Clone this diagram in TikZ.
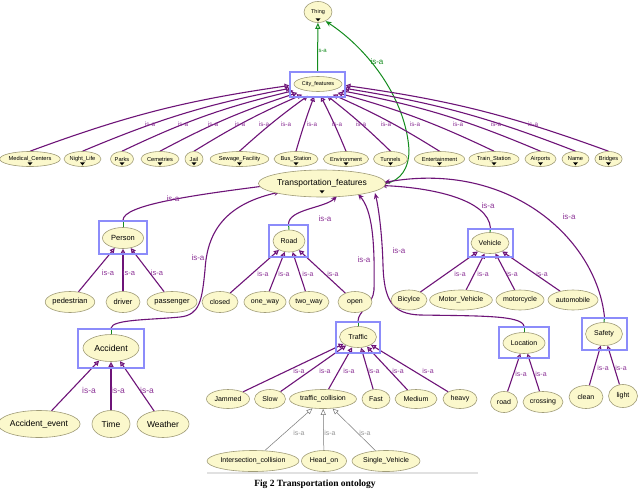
\documentclass[tikz,border=0pt]{standalone}
\usepackage{fontspec}
\setmainfont{Liberation Sans}
\newfontfamily\capfont{Liberation Serif}
\usetikzlibrary{shapes.geometric,arrows.meta,backgrounds}
\definecolor{clsfill}{RGB}{251,248,204}
\definecolor{clsdraw}{RGB}{160,156,120}
\definecolor{boxblue}{RGB}{140,140,250}
\definecolor{epurple}{RGB}{110,20,120}
\definecolor{lpurple}{RGB}{140,50,150}
\definecolor{egreen}{RGB}{20,140,30}
\definecolor{egray}{RGB}{120,120,120}
\definecolor{lgray}{RGB}{150,150,150}
\newcommand\fsz[1]{\fontsize{#1}{#1}\selectfont}
\newcommand\dropmark[2]{\fill ([shift={(-2.5,-#2)}]#1.south) -- ++(5,0) -- ++(-2.5,3) -- cycle;}
\begin{document}
\begin{tikzpicture}[x=1pt,y=-1pt,
  cls/.style={ellipse,draw=clsdraw,fill=clsfill,line width=0.6pt,inner sep=0pt},
  rowcls/.style={cls,minimum height=15pt,font=\fsz{5.7}},
  midcls/.style={cls,font=\fsz{7}},
  selbox/.style={rectangle,draw=boxblue,line width=1.6pt,inner sep=0pt},
  isa/.style={draw=epurple,line width=1.1pt,-{Triangle[open,length=5pt,width=5pt]}},
  isaf/.style={draw=epurple,line width=1.1pt,-{Stealth[length=6pt,width=5pt]}},
  isag/.style={draw=egray,line width=0.5pt,-{Triangle[open,length=6pt,width=5pt]}},
  gedge/.style={draw=egreen,line width=1pt},
  tick/.style={draw=egreen,line width=1pt},
  lab/.style={text=lpurple,inner sep=0pt},
  glab/.style={text=lgray,inner sep=0pt,font=\fsz{7}},
]
\useasboundingbox (0,0) rectangle (640,488);

% ---------- top ----------
\node[cls,minimum width=28pt,minimum height=21pt,font=\fsz{5.5}] (thing) at (318,12) {\raisebox{1pt}{Thing}};
\node[cls,minimum width=48pt,minimum height=15pt,font=\fsz{5.5}] (cf) at (318,84) {City\_features};
\node[selbox,minimum width=55pt,minimum height=25pt] (cfbox) at (317.5,84.5) {};

% ---------- row of city features ----------
\node[rowcls,minimum width=56pt] (mc) at (30,159) {Medical\_Centers};
\node[rowcls,minimum width=37pt] (nl) at (82.5,159) {Night\_Life};
\node[rowcls,minimum width=23pt] (parks) at (122,159) {Parks};
\node[rowcls,minimum width=38pt] (cem) at (160,159) {Cemetries};
\node[rowcls,minimum width=18pt] (jail) at (194,159) {Jail};
\node[rowcls,minimum width=57pt] (sew) at (239.5,159) {Sewage\_Facility};
\node[rowcls,minimum width=44pt] (bus) at (296,159) {Bus\_Station};
\node[rowcls,minimum width=44pt] (env) at (346,159) {Environment};
\node[rowcls,minimum width=34pt] (tun) at (390.5,159) {Tunnels};
\node[rowcls,minimum width=49pt] (ent) at (439.5,159) {Entertainment};
\node[rowcls,minimum width=50pt] (train) at (494,159) {Train\_Station};
\node[rowcls,minimum width=31pt] (air) at (540.5,159) {Airports};
\node[rowcls,minimum width=27pt] (name) at (575.5,159) {Name};
\node[rowcls,minimum width=27pt] (bri) at (608.5,159) {Bridges};

% ---------- transportation ----------
\node[cls,minimum width=112pt,minimum height=27pt,font=\fsz{8.5}] (tf) at (322,183.5) {\raisebox{1.5pt}{Transportation\_features}};

% Person
\node[cls,minimum width=41pt,minimum height=21pt,font=\fsz{7.5}] (person) at (123,238) {Person};
\node[selbox,minimum width=48pt,minimum height=33pt] (personbox) at (123,237.5) {};
\node[cls,minimum width=43pt,minimum height=21pt,font=\fsz{7.5}] (ped) at (70,302) {pedestrian};
\node[cls,minimum width=34pt,minimum height=21pt,font=\fsz{7.5}] (driver) at (123,302) {driver};
\node[cls,minimum width=50pt,minimum height=21pt,font=\fsz{7.5}] (pass) at (172,302) {passenger};

% Road
\node[cls,minimum width=32pt,minimum height=22pt,font=\fsz{7}] (road) at (289,241) {Road};
\node[selbox,minimum width=39pt,minimum height=32pt] (roadbox) at (288.5,241) {};
\node[midcls,minimum width=36pt,minimum height=21pt] (closed) at (220,302) {closed};
\node[midcls,minimum width=42pt,minimum height=21pt] (oneway) at (265,302) {one\_way};
\node[midcls,minimum width=40pt,minimum height=21pt] (twoway) at (309,302) {two\_way};
\node[midcls,minimum width=34pt,minimum height=21pt] (open) at (355,302) {open};

% Vehicle
\node[midcls,minimum width=38pt,minimum height=21pt] (veh) at (490,243) {Vehicle};
\node[selbox,minimum width=45pt,minimum height=28pt] (vehbox) at (490.5,243) {};
\node[midcls,minimum width=36pt,minimum height=20pt] (bic) at (409,300) {Bicylce};
\node[midcls,minimum width=59pt,minimum height=20pt] (motv) at (461,300) {Motor\_Vehicle};
\node[midcls,minimum width=48pt,minimum height=20pt] (moto) at (520,300) {motorcycle};
\node[midcls,minimum width=50pt,minimum height=20pt] (auto) at (573,300) {automobile};

% Safety
\node[midcls,minimum width=37pt,minimum height=23pt] (saf) at (604,334) {Safety};
\node[selbox,minimum width=45pt,minimum height=32pt] (safbox) at (604.5,334) {};
\node[midcls,minimum width=34pt,minimum height=23pt] (clean) at (586,397) {clean};
\node[midcls,minimum width=29pt,minimum height=23pt] (light) at (623,396) {light};

% Location
\node[midcls,minimum width=42pt,minimum height=21pt] (loc) at (524,343) {Location};
\node[selbox,minimum width=50pt,minimum height=31pt] (locbox) at (524,342.5) {};
\node[midcls,minimum width=27pt,minimum height=21pt] (lroad) at (504,402) {road};
\node[midcls,minimum width=40pt,minimum height=21pt] (cross) at (543,402) {crossing};

% Traffic
\node[midcls,minimum width=37pt,minimum height=21pt] (traf) at (358,337) {Traffic};
\node[selbox,minimum width=44pt,minimum height=31pt] (trbox) at (358,337.5) {};
\node[midcls,minimum width=43pt,minimum height=19pt] (jam) at (228,399) {Jammed};
\node[midcls,minimum width=31pt,minimum height=19pt] (slow) at (270,399) {Slow};
\node[midcls,minimum width=67pt,minimum height=19pt] (tcol) at (323,399) {traffic\_collision};
\node[midcls,minimum width=28pt,minimum height=19pt] (fast) at (376,399) {Fast};
\node[midcls,minimum width=42pt,minimum height=19pt] (med) at (416,399) {Medium};
\node[midcls,minimum width=34pt,minimum height=19pt] (heavy) at (460,399) {heavy};
\node[midcls,minimum width=86pt,minimum height=21pt] (inter) at (253,461) {Intersection\_collision};
\node[midcls,minimum width=45pt,minimum height=21pt] (head) at (324,461) {Head\_on};
\node[midcls,minimum width=68pt,minimum height=21pt] (single) at (386,461) {Single\_Vehicle};

% Accident
\node[cls,minimum width=56pt,minimum height=27pt,font=\fsz{8.7}] (acc) at (111,348) {Accident};
\node[selbox,minimum width=66pt,minimum height=39pt] (accbox) at (111,348.5) {};
\node[cls,minimum width=75pt,minimum height=27pt,font=\fsz{8.5}] (accev) at (39,424) {Accident\_event};
\node[cls,minimum width=38pt,minimum height=27pt,font=\fsz{8.5}] (time) at (111,424) {Time};
\node[cls,minimum width=52pt,minimum height=27pt,font=\fsz{8.5}] (weather) at (163,424) {Weather};

% dropdown marks
\dropmark{thing}{4.5}
\foreach \n in {mc,nl,parks,cem,jail,sew,bus,env,tun,ent,train,air,name,bri}{\dropmark{\n}{4.5}}
\dropmark{tf}{7}

% ---------- edges (behind the nodes) ----------
\begin{scope}[on background layer]
\fill[white] (0,0) rectangle (640,488);
\draw[gedge,-{Triangle[open,length=6pt,width=5pt]}] (cfbox.north) -- (thing);
\draw[gedge,-{Stealth[length=6pt,width=5pt]}] (tf.east) .. controls +(15,-3) and +(0,18) .. (409,150) .. controls +(-3,-50) and +(44,29) .. (thing.-50);

\draw[isa] (mc.north) to[bend left=6] ([shift={(-28,1)}]cfbox.center);
\draw[isa] (nl.north) to[bend left=6] ([shift={(-26.6,3.7)}]cfbox.center);
\draw[isa] (parks.north) to[bend left=6] ([shift={(-24,6.2)}]cfbox.center);
\draw[isa] (cem.north) to[bend left=5] ([shift={(-20.1,8.3)}]cfbox.center);
\draw[isa] (jail.north) to[bend left=4] ([shift={(-15.3,10.1)}]cfbox.center);
\draw[isa] (sew.north) to[bend left=3] ([shift={(-9.6,11.3)}]cfbox.center);
\draw[isa] (bus.north) to[bend left=2] ([shift={(-3.4,11.9)}]cfbox.center);
\draw[isa] (env.north) to[bend right=2] ([shift={(3.4,11.9)}]cfbox.center);
\draw[isa] (tun.north) to[bend right=3] ([shift={(9.6,11.3)}]cfbox.center);
\draw[isa] (ent.north) to[bend right=4] ([shift={(15.3,10.1)}]cfbox.center);
\draw[isa] (train.north) to[bend right=5] ([shift={(20.1,8.3)}]cfbox.center);
\draw[isa] (air.north) to[bend right=6] ([shift={(24,6.2)}]cfbox.center);
\draw[isa] (name.north) to[bend right=6] ([shift={(26.6,3.7)}]cfbox.center);
\draw[isa] (bri.north) to[bend right=6] ([shift={(28,1)}]cfbox.center);

% to Transportation_features
\draw[isaf] (personbox.north) .. controls +(0,-15) and +(-78,10) .. ([shift={(-54,2)}]tf.center);
\draw[isaf] (roadbox.north) .. controls +(0,-15) and +(-12,12) .. ([shift={(15,12.5)}]tf.center);
\draw[isaf] (vehbox.north) .. controls +(-2,-29) and +(50,2) .. ([shift={(59,2)}]tf.center);
\draw[isaf] (safbox.north) .. controls +(-8,-78) and +(126,-22.5) .. ([shift={(62,-1)}]tf.center);
\draw[isaf] (trbox.north) .. controls +(0,-10) and +(-1,15) .. (374,290) .. controls +(1,-50) and +(14,16) .. ([shift={(36,10.5)}]tf.center);
\draw[isaf] (locbox.north) .. controls +(-2,-11) and +(60,1) .. (420,315) .. controls +(-28,-1) and +(1,35) .. (383,265) .. controls +(-1,-35) and +(3,12) .. ([shift={(53,9.5)}]tf.center);
\draw[isaf] (accbox.north) .. controls +(1,-9) and +(-30,3) .. (180,317) .. controls +(20,-2) and +(-3,30) .. (205,270) .. controls +(2,-35) and +(-58,13) .. ([shift={(-42,8.5)}]tf.center);

% green ticks
\draw[tick] (person.north) -- (personbox.north);
\draw[tick] (road.north) -- (roadbox.north);
\draw[tick] (veh.north) -- (vehbox.north);
\draw[tick] (saf.north) -- (safbox.north);
\draw[tick] (loc.north) -- (locbox.north);
\draw[tick] (traf.north) -- (trbox.north);
\draw[tick] (acc.north) -- (accbox.north);

% children
\draw[isa] (ped) -- (person);
\draw[isa] (driver) -- (person);
\draw[isa] (pass) -- (person);
\draw[isa] (closed) -- (road);
\draw[isa] (oneway) -- (road);
\draw[isa] (twoway) -- (road);
\draw[isa] (open) -- (road);
\draw[isa] (bic) -- (veh);
\draw[isa] (motv) -- (veh);
\draw[isa] (moto) -- (veh);
\draw[isa] (auto) -- (veh);
\draw[isa] (clean) -- (saf);
\draw[isa] (light) -- (saf);
\draw[isa] (lroad) -- (loc);
\draw[isa] (cross) -- (loc);
\draw[isa] (jam) -- (traf);
\draw[isa] (slow) -- (traf);
\draw[isa] (tcol) -- (traf);
\draw[isa] (fast) -- (traf);
\draw[isa] (med) -- (traf);
\draw[isa] (heavy) -- (traf);
\draw[isag] (inter) -- (tcol);
\draw[isag] (head) -- (tcol);
\draw[isag] (single) -- (tcol);
\draw[isa] (accev) -- (acc);
\draw[isa] (time) -- (acc);
\draw[isa] (weather) -- (acc);

% separator line
\draw[draw={rgb,255:red,225;green,225;blue,225},line width=1.2pt] (207,473) -- (478,473);
\end{scope}

% ---------- labels ----------
\node[text=egreen,inner sep=0pt,font=\fsz{6}] (lg1) at (322,50) {is-a};
\node[text=egreen,inner sep=0pt,font=\fsz{8}] (lg2) at (377,62) {is-a};
\foreach \x [count=\i] in {150,183,213,240,264,286,312,337,361,386,415,458,496,533}
  {\node[lab,font=\fsz{6.3}] (lr\i) at (\x,124) {is-a};}

\node[lab,font=\fsz{8}] (lt1) at (173,199) {is-a};
\node[lab,font=\fsz{8}] (lt2) at (325,219) {is-a};
\node[lab,font=\fsz{8}] (lt3) at (488,206) {is-a};
\node[lab,font=\fsz{8}] (lt4) at (569,217) {is-a};
\node[lab,font=\fsz{8}] (lt5) at (364,260) {is-a};
\node[lab,font=\fsz{8}] (lt6) at (399,251) {is-a};
\node[lab,font=\fsz{8}] (lt7) at (198,258) {is-a};

\node[lab,font=\fsz{7.5}] (lp1) at (108,273) {is-a};
\node[lab,font=\fsz{7.5}] (lp2) at (129,273) {is-a};
\node[lab,font=\fsz{7.5}] (lp3) at (157,273) {is-a};

\node[lab,font=\fsz{7}] (lo1) at (263,274) {is-a};
\node[lab,font=\fsz{7}] (lo2) at (284,274) {is-a};
\node[lab,font=\fsz{7}] (lo3) at (308,274) {is-a};
\node[lab,font=\fsz{7}] (lo4) at (333,274) {is-a};

\node[lab,font=\fsz{7}] (lv1) at (460,274) {is-a};
\node[lab,font=\fsz{7}] (lv2) at (483,274) {is-a};
\node[lab,font=\fsz{7}] (lv3) at (512,274) {is-a};
\node[lab,font=\fsz{7}] (lv4) at (542,274) {is-a};

\node[lab,font=\fsz{7}] (ltr1) at (299,371) {is-a};
\node[lab,font=\fsz{7}] (ltr2) at (325,371) {is-a};
\node[lab,font=\fsz{7}] (ltr3) at (349,371) {is-a};
\node[lab,font=\fsz{7}] (ltr4) at (374,371) {is-a};
\node[lab,font=\fsz{7}] (ltr5) at (398,371) {is-a};
\node[lab,font=\fsz{7}] (ltr6) at (428,371) {is-a};

\node[glab] (lc1) at (299,433) {is-a};
\node[glab] (lc2) at (330,433) {is-a};
\node[glab] (lc3) at (365,433) {is-a};

\node[lab,font=\fsz{8.5}] (la1) at (89,390) {is-a};
\node[lab,font=\fsz{8.5}] (la2) at (118,390) {is-a};
\node[lab,font=\fsz{8.5}] (la3) at (147,390) {is-a};

\node[lab,font=\fsz{7}] (ll1) at (521,374) {is-a};
\node[lab,font=\fsz{7}] (ll2) at (541,374) {is-a};

\node[lab,font=\fsz{7}] (ls1) at (603,368) {is-a};
\node[lab,font=\fsz{7}] (ls2) at (621,368) {is-a};

% caption
\node[font=\capfont\bfseries\fsz{9.5},anchor=base,inner sep=0pt] (cap) at (315,486) {Fig 2 Transportation ontology};
\end{tikzpicture}
\end{document}
